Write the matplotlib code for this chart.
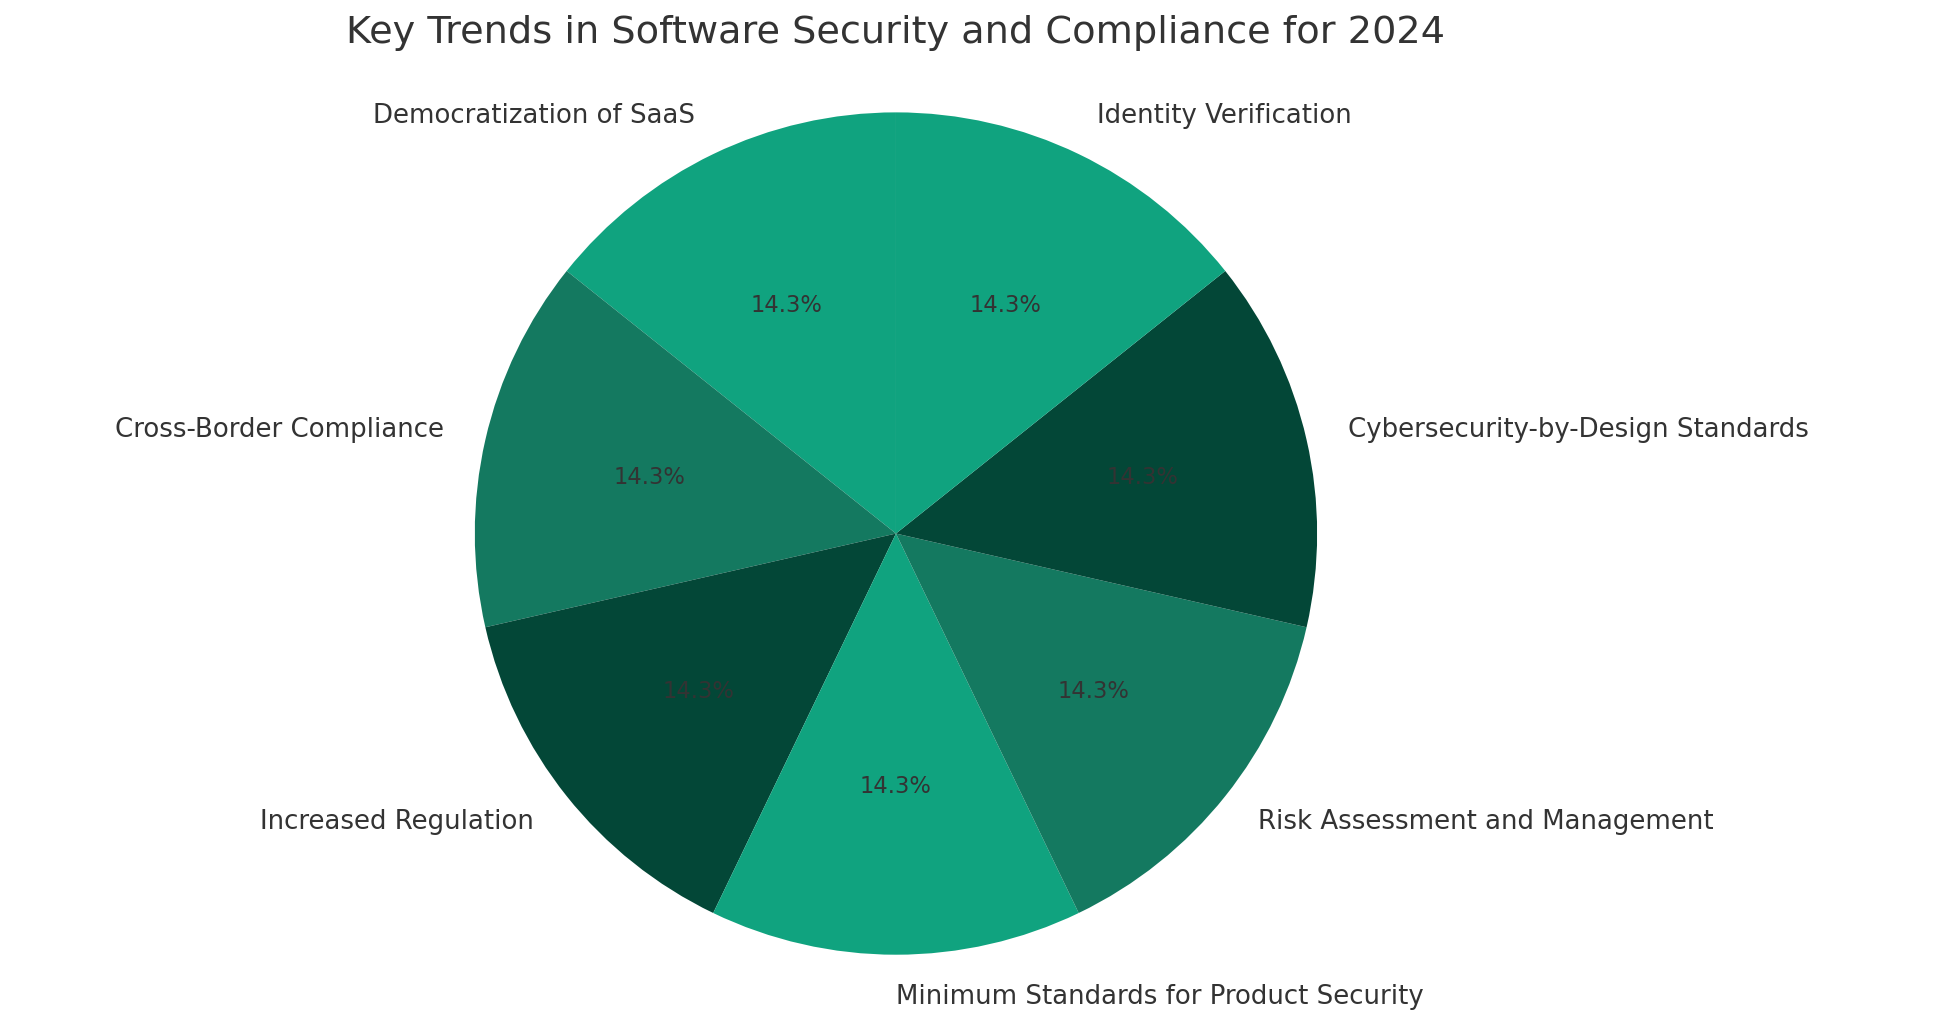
import matplotlib.pyplot as plt

labels = ["Democratization of SaaS", "Cross-Border Compliance", "Increased Regulation",
          "Minimum Standards for Product Security", "Risk Assessment and Management",
          "Cybersecurity-by-Design Standards", "Identity Verification"]
sizes = [1, 1, 1, 1, 1, 1, 1]
colors = ["#10a37f", "#147960", "#034737", "#10a37f", "#147960", "#034737", "#10a37f"]

plt.rcParams['text.color'] = '#333333'
fig = plt.figure(figsize=(15.616, 8.248), dpi=125)
ax = fig.add_axes([0.243, 0.074, 0.432, 0.817])
ax.pie(sizes, labels=labels, colors=colors, autopct='%1.1f%%', startangle=90,
       textprops={'fontsize': 15, 'color': '#333333'})
for t in ax.texts:
    if t.get_text().endswith('%'):
        t.set_fontsize(13)
ax.set_xlim(-1, 1)
ax.set_ylim(-1, 1)
fig.suptitle("Key Trends in Software Security and Compliance for 2024", x=0.459, y=0.985,
             fontsize=22, color='#333333')
fig.savefig("out.png", dpi=125)
